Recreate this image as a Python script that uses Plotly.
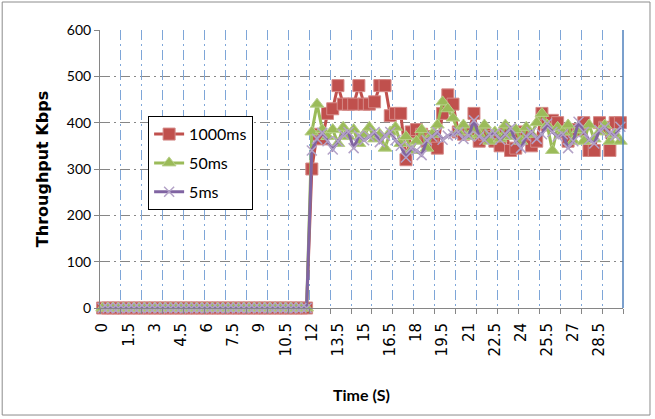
import plotly.graph_objects as go

# Time categories (s), step 0.3
time_s = [round(0.3 * i, 1) for i in range(100)]

tick_vals = [0, 1.5, 3, 4.5, 6, 7.5, 9, 10.5, 12, 13.5, 15, 16.5, 18, 19.5, 21,
             22.5, 24, 25.5, 27, 28.5]
tick_text = ["0", "1.5", "3", "4.5", "6", "7.5", "9", "10.5", "12", "13.5", "15",
             "16.5", "18", "19.5", "21", "22.5", "24", "25.5", "27", "28.5"]

zeros_part = [0, 0, 0, 0, 0, 0, 0, 0, 0, 0,
              0, 0, 0, 0, 0, 0, 0, 0, 0, 0,
              0, 0, 0, 0, 0, 0, 0, 0, 0, 0,
              0, 0, 0, 0, 0, 0, 0, 0, 0, 0]

ms1000 = zeros_part + [
    300, 375, 365, 420, 430, 480, 440, 440, 440, 480,
    440, 440, 445, 480, 480, 415, 420, 420, 320, 380,
    385, 375, 360, 370, 345, 420, 460, 440, 380, 375,
    380, 420, 360, 375, 370, 360, 350, 380, 340, 345,
    380, 370, 350, 360, 420, 395, 405, 400, 380, 360,
    385, 385, 400, 340, 340, 400, 390, 340, 400, 400]

ms50 = zeros_part + [
    380, 440, 385, 370, 385, 355, 390, 370, 385, 355,
    375, 390, 365, 375, 345, 380, 390, 355, 370, 340,
    360, 385, 345, 375, 395, 445, 430, 410, 380, 395,
    370, 385, 375, 395, 360, 380, 365, 395, 370, 385,
    360, 390, 375, 400, 420, 395, 340, 390, 380, 395,
    360, 385, 360, 395, 365, 380, 395, 360, 375, 360]

ms5 = zeros_part + [
    340, 365, 378, 360, 342, 360, 375, 380, 345, 372,
    362, 370, 380, 358, 372, 380, 362, 350, 325, 345,
    340, 330, 362, 370, 380, 363, 372, 375, 380, 365,
    372, 405, 370, 363, 375, 377, 363, 375, 388, 360,
    345, 370, 380, 365, 375, 398, 380, 370, 375, 345,
    360, 402, 380, 363, 355, 384, 390, 377, 372, 391]

grid_vals = [round(-0.15 + 1.2 * k, 2) for k in range(26)]

FONT = "Lato"

fig = go.Figure()
fig.add_trace(go.Scatter(
    x=time_s, y=ms1000, name="1000ms", mode="lines+markers",
    line=dict(color="#C0504D", width=3),
    marker=dict(symbol="square", size=12, color="#C0504D",
                line=dict(color="#D58A88", width=1)),
    cliponaxis=False, legendgroup="a"))
fig.add_trace(go.Scatter(
    x=time_s, y=ms50, name="50ms", mode="lines+markers",
    line=dict(color="#9BBB59", width=3),
    marker=dict(symbol="triangle-up", size=12, color="#9BBB59",
                line=dict(color="#B7CF88", width=1)),
    cliponaxis=False, legendgroup="b"))
fig.add_trace(go.Scatter(
    x=time_s, y=ms5, name="5ms", mode="lines+markers",
    line=dict(color="#8064A2", width=3),
    marker=dict(symbol="x-thin", size=10,
                line=dict(color="#B3A2C7", width=1.5)),
    cliponaxis=False, legendgroup="c"))

# invisible trace to activate secondary x axis for gridlines
fig.add_trace(go.Scatter(x=[time_s[0]], y=[0], xaxis="x2", mode="markers",
                         marker=dict(opacity=0), showlegend=False,
                         hoverinfo="skip"))

fig.update_layout(
    width=655, height=419,
    margin=dict(l=100, r=32, t=30, b=111),
    paper_bgcolor="white", plot_bgcolor="white",
    font=dict(family=FONT, size=13, color="black"),
    showlegend=True,
    legend=dict(x=0.092, y=0.69, xanchor="left", yanchor="top",
                bordercolor="black", borderwidth=1, bgcolor="white",
                font=dict(family=FONT, size=16), tracegroupgap=5),
    xaxis=dict(range=[-0.15, 29.85], tickmode="array", tickvals=tick_vals,
               ticktext=tick_text, tickangle=-90, showgrid=False,
               zeroline=False, showline=True, linecolor="#868686",
               linewidth=1, ticks="", ticklabelstandoff=8,
               tickfont=dict(family="DejaVu Sans", size=15),
               title=dict(text="<b>Time (S)</b>",
                          font=dict(family=FONT, size=16), standoff=34)),
    xaxis2=dict(range=[-0.15, 29.85], overlaying="x", side="bottom",
                anchor="y", tickmode="array", tickvals=grid_vals,
                showticklabels=False, showgrid=True, gridcolor="#7EA6D8",
                griddash="10px,4px,2px,4px", gridwidth=1,
                ticks="outside", ticklen=5, tickcolor="#868686",
                zeroline=False, showline=False),
    yaxis=dict(range=[0, 600], tickmode="array",
               tickvals=[0, 100, 200, 300, 400, 500, 600],
               showgrid=True, gridcolor="#868686",
               griddash="10px,4px,2px,4px", gridwidth=1,
               zeroline=False, showline=True, linecolor="#868686",
               ticks="outside", ticklen=5, tickcolor="#868686",
               tickfont=dict(family=FONT, size=14),
               title=dict(text="<b>Throughput Kbps</b>",
                          font=dict(family="DejaVu Sans", size=16),
                          standoff=14)),
    shapes=[
        dict(type="line", xref="x domain", yref="y domain",
             x0=1, x1=1, y0=0, y1=1, line=dict(color="#4F81BD", width=1.5)),
        dict(type="rect", xref="paper", yref="paper",
             x0=-0.187, x1=1.0516, y0=-0.385, y1=1.1007,
             line=dict(color="#8C8C8C", width=1)),
    ],
)

fig.write_html("out.html")
